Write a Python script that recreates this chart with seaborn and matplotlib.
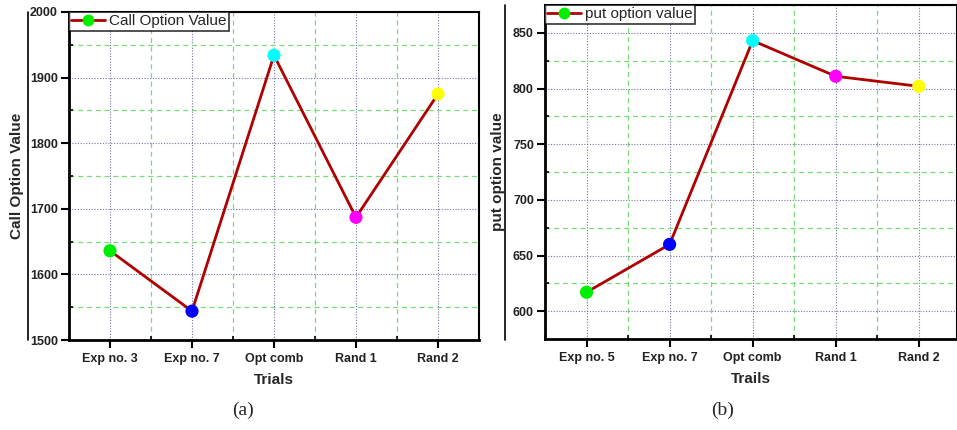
import matplotlib
matplotlib.use("Agg")
import matplotlib.pyplot as plt
import seaborn as sns
import pandas as pd
from matplotlib.lines import Line2D
from matplotlib.ticker import MultipleLocator, FixedLocator

sns.set_style("white")
plt.rcParams['font.family'] = ['Liberation Sans', 'DejaVu Sans']

call_trials = ["Exp no. 3", "Exp no. 7", "Opt comb", "Rand 1", "Rand 2"]
call_values = [1636, 1544, 1934, 1687, 1875]
put_trials = ["Exp no. 5", "Exp no. 7", "Opt comb", "Rand 1", "Rand 2"]
put_values = [617, 660, 843, 811, 802]
point_colors = ["#00ee00", "#0000ff", "#00ffff", "#ff00ff", "#ffff00"]
line_color = "#b00000"

fig = plt.figure(figsize=(9.57, 4.30), dpi=100)
axL = fig.add_axes([0.0721, 0.2093, 0.4284, 0.7628])
axR = fig.add_axes([0.5695, 0.2116, 0.4305, 0.7767])


def draw(ax, trials, values, ylim, ymaj, ymin_, label, xlabel, ylabel, xmax, ylabelpad):
    df = pd.DataFrame({"x": range(len(trials)), "y": values, "t": trials})
    ax.set_axisbelow(True)
    ax.xaxis.set_major_locator(FixedLocator(range(len(trials))))
    ax.xaxis.set_minor_locator(FixedLocator([i + 0.5 for i in range(-1, len(trials))]))
    ax.yaxis.set_major_locator(MultipleLocator(ymaj))
    ax.yaxis.set_minor_locator(MultipleLocator(ymin_))
    ax.grid(which="major", color="#7777aa", linestyle=(0, (1, 1.5)), linewidth=0.8)
    ax.grid(which="minor", color="#77dd77", linestyle=(0, (4, 3)), linewidth=0.9)
    sns.lineplot(data=df, x="x", y="y", ax=ax, color=line_color, linewidth=2, legend=False)
    sns.scatterplot(data=df, x="x", y="y", hue="t", palette=point_colors, ax=ax,
                    s=90, edgecolor="none", legend=False, zorder=5)
    ax.set_xlim(-0.5, xmax)
    ax.set_ylim(*ylim)
    ax.set_xticklabels(trials)
    ax.tick_params(which="major", direction="out", length=6, width=1.5, labelsize=9,
                   bottom=True, left=True, color="black", pad=2)
    ax.tick_params(which="minor", direction="in", length=3, width=1.2,
                   bottom=True, left=True, color="black")
    ax.tick_params(axis="x", which="major", pad=3)
    for lab in ax.get_xticklabels() + ax.get_yticklabels():
        lab.set_fontweight("bold")
        lab.set_color("#222222")
    ax.set_xlabel(xlabel, fontsize=11, fontweight="bold", labelpad=6)
    ax.set_ylabel(ylabel, fontsize=11, fontweight="bold", labelpad=ylabelpad)
    for s in ["left", "bottom"]:
        ax.spines[s].set_linewidth(2)
        ax.spines[s].set_color("black")
    for s in ["top", "right"]:
        ax.spines[s].set_linewidth(1.5)
        ax.spines[s].set_color("black")
    h = Line2D([], [], color=line_color, linewidth=2, marker="o", markersize=8.5,
               markerfacecolor=point_colors[0], markeredgecolor="none")
    leg = ax.legend([h], [label], loc="upper left", borderaxespad=0.0, fontsize=11,
                    frameon=True, fancybox=False, handlelength=2.2, borderpad=0.15,
                    handletextpad=0.3)
    leg.get_frame().set_edgecolor("black")
    leg.get_frame().set_linewidth(1.2)


draw(axL, call_trials, call_values, (1500, 2000), 100, 50, "Call Option Value",
     "Trials", "Call Option Value", 4.5, 4)
draw(axR, put_trials, put_values, (575, 875), 50, 25, "put option value",
     "Trails", "put option value", 4.46, 6)

# frame lines of the original graph layers
for xpx, ytop in [(28, 12), (505, 5)]:
    fig.add_artist(Line2D([xpx / 957, xpx / 957], [1 - ytop / 430, 1 - 340 / 430],
                          transform=fig.transFigure, color="black", linewidth=1.2))

fig.text(243 / 957, 1 - 410 / 430, "(a)", family="Liberation Serif", fontsize=14,
         ha="center", va="center")
fig.text(723 / 957, 1 - 410 / 430, "(b)", family="Liberation Serif", fontsize=14,
         ha="center", va="center")

fig.savefig("out.png", dpi=100)
